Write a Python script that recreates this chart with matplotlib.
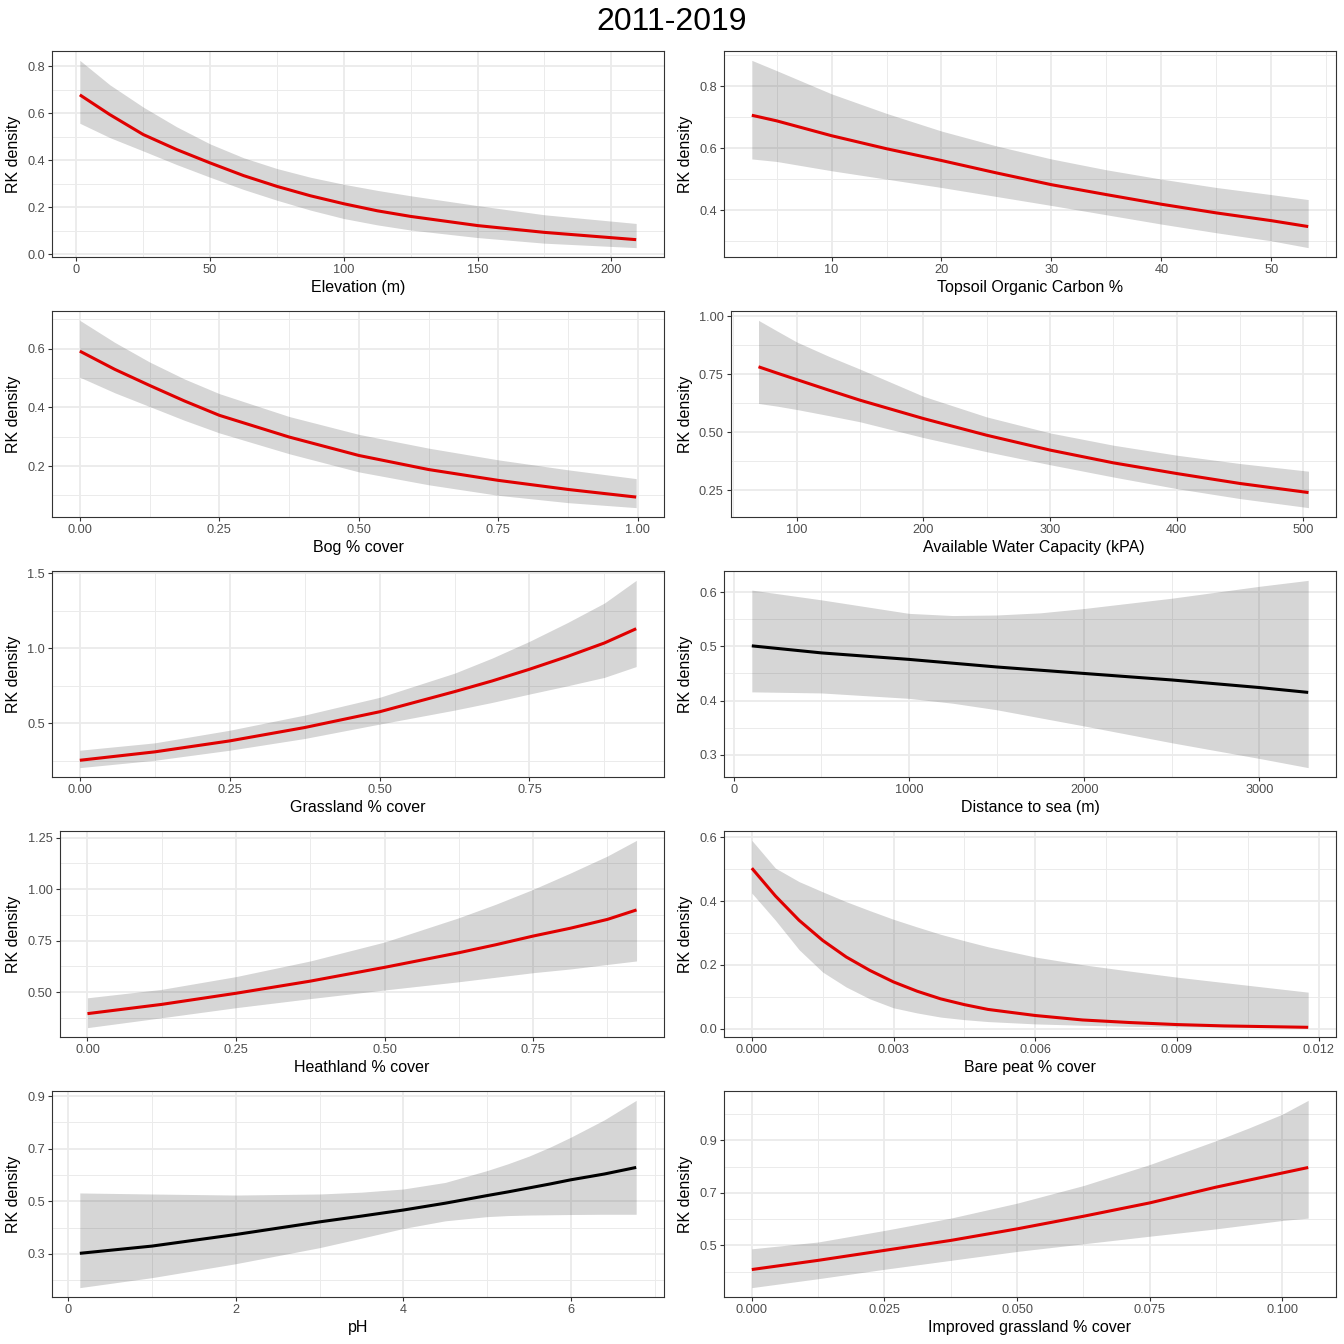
import numpy as np
import matplotlib
matplotlib.use("Agg")
import matplotlib.pyplot as plt

plt.rcParams['font.family'] = ['Liberation Sans', 'DejaVu Sans']

# ---------------- data ----------------
elev_x = [1.3, 12.5, 25, 37.5, 50, 62.5, 75, 87.5, 100, 112.5, 125, 150, 175, 209.3]
elev_fit = [0.679, 0.595, 0.510, 0.446, 0.389, 0.335, 0.289, 0.249, 0.215, 0.185, 0.161, 0.122, 0.093, 0.062]
elev_lo = [0.558, 0.497, 0.440, 0.382, 0.328, 0.276, 0.230, 0.188, 0.152, 0.125, 0.103, 0.071, 0.047, 0.028]
elev_hi = [0.826, 0.722, 0.627, 0.543, 0.470, 0.411, 0.365, 0.328, 0.298, 0.272, 0.249, 0.207, 0.168, 0.131]
elev_ticks = [0, 50, 100, 150, 200]
elev_yticks = [0.0, 0.2, 0.4, 0.6, 0.8]

toc_x = [2.75, 5, 10, 15, 20, 25, 30, 35, 40, 45, 50, 53.35]
toc_fit = [0.706, 0.688, 0.640, 0.598, 0.560, 0.520, 0.482, 0.450, 0.419, 0.391, 0.366, 0.347]
toc_lo = [0.565, 0.557, 0.527, 0.500, 0.473, 0.444, 0.415, 0.385, 0.355, 0.327, 0.301, 0.279]
toc_hi = [0.883, 0.850, 0.775, 0.712, 0.655, 0.607, 0.565, 0.530, 0.500, 0.473, 0.450, 0.434]
toc_ticks = [10, 20, 30, 40, 50]
toc_yticks = [0.4, 0.6, 0.8]

bog_x = [0.0, 0.0625, 0.125, 0.1875, 0.25, 0.375, 0.5, 0.625, 0.75, 0.875, 0.997]
bog_fit = [0.592, 0.530, 0.475, 0.422, 0.373, 0.299, 0.236, 0.188, 0.151, 0.120, 0.094]
bog_lo = [0.503, 0.450, 0.403, 0.356, 0.313, 0.242, 0.180, 0.136, 0.100, 0.075, 0.058]
bog_hi = [0.697, 0.622, 0.555, 0.497, 0.447, 0.369, 0.308, 0.261, 0.221, 0.187, 0.157]
bog_ticks = [0.0, 0.25, 0.5, 0.75, 1.0]
bog_yticks = [0.2, 0.4, 0.6]

awc_x = [69.9, 85, 100, 125, 150, 200, 250, 300, 350, 400, 450, 504]
awc_fit = [0.782, 0.754, 0.727, 0.682, 0.638, 0.559, 0.487, 0.423, 0.368, 0.322, 0.279, 0.240]
awc_lo = [0.624, 0.612, 0.598, 0.572, 0.545, 0.477, 0.416, 0.360, 0.307, 0.257, 0.214, 0.175]
awc_hi = [0.982, 0.935, 0.889, 0.828, 0.772, 0.655, 0.566, 0.497, 0.444, 0.401, 0.365, 0.332]
awc_ticks = [100, 200, 300, 400, 500]
awc_yticks = [0.25, 0.50, 0.75, 1.00]

grass_x = [0.0, 0.125, 0.25, 0.375, 0.5, 0.625, 0.6875, 0.75, 0.8125, 0.875, 0.928]
grass_fit = [0.255, 0.311, 0.384, 0.473, 0.578, 0.712, 0.783, 0.861, 0.945, 1.036, 1.131]
grass_lo = [0.206, 0.255, 0.322, 0.400, 0.496, 0.589, 0.640, 0.696, 0.750, 0.807, 0.879]
grass_hi = [0.322, 0.371, 0.455, 0.556, 0.674, 0.835, 0.935, 1.047, 1.170, 1.302, 1.453]
grass_ticks = [0.0, 0.25, 0.5, 0.75]
grass_yticks = [0.5, 1.0, 1.5]

sea_x = [103, 500, 1000, 1250, 1500, 1750, 2000, 2500, 3000, 3279]
sea_fit = [0.501, 0.488, 0.476, 0.469, 0.462, 0.456, 0.450, 0.438, 0.424, 0.415]
sea_lo = [0.416, 0.414, 0.404, 0.395, 0.383, 0.368, 0.353, 0.322, 0.293, 0.276]
sea_hi = [0.604, 0.586, 0.561, 0.557, 0.558, 0.562, 0.570, 0.589, 0.611, 0.622]
sea_ticks = [0, 1000, 2000, 3000]
sea_yticks = [0.3, 0.4, 0.5, 0.6]

heath_x = [0.0, 0.125, 0.25, 0.375, 0.5, 0.625, 0.6875, 0.75, 0.8125, 0.875, 0.924]
heath_fit = [0.395, 0.440, 0.494, 0.553, 0.620, 0.691, 0.730, 0.772, 0.810, 0.853, 0.899]
heath_lo = [0.327, 0.375, 0.424, 0.468, 0.510, 0.550, 0.572, 0.594, 0.612, 0.634, 0.651]
heath_hi = [0.472, 0.513, 0.575, 0.651, 0.743, 0.861, 0.927, 0.999, 1.078, 1.161, 1.237]
heath_ticks = [0.0, 0.25, 0.5, 0.75]
heath_yticks = [0.50, 0.75, 1.00, 1.25]

peat_x = [0.0, 0.0005, 0.001, 0.0015, 0.002, 0.0025, 0.003, 0.0035, 0.004, 0.0045,
          0.005, 0.006, 0.007, 0.008, 0.009, 0.010, 0.01178]
peat_fit = [0.503, 0.416, 0.340, 0.277, 0.225, 0.183, 0.147, 0.118, 0.094, 0.076,
            0.061, 0.042, 0.028, 0.020, 0.0136, 0.0094, 0.005]
peat_lo = [0.425, 0.340, 0.248, 0.178, 0.131, 0.094, 0.066, 0.050, 0.037, 0.029,
           0.023, 0.0157, 0.0115, 0.008, 0.006, 0.005, 0.004]
peat_hi = [0.590, 0.503, 0.461, 0.429, 0.398, 0.370, 0.343, 0.319, 0.296, 0.276,
           0.257, 0.225, 0.201, 0.181, 0.162, 0.145, 0.115]
peat_ticks = [0.0, 0.003, 0.006, 0.009, 0.012]
peat_yticks = [0.0, 0.2, 0.4, 0.6]

ph_x = [0.138, 1, 2, 3, 3.5, 4, 4.5, 5, 5.25, 5.5, 5.75, 6, 6.4, 6.78]
ph_fit = [0.3025, 0.330, 0.374, 0.422, 0.444, 0.467, 0.493, 0.522, 0.536, 0.551, 0.566, 0.582, 0.604, 0.629]
ph_lo = [0.172, 0.210, 0.263, 0.324, 0.360, 0.397, 0.426, 0.442, 0.446, 0.448, 0.449, 0.450, 0.451, 0.451]
ph_hi = [0.532, 0.528, 0.524, 0.528, 0.535, 0.547, 0.572, 0.617, 0.643, 0.672, 0.706, 0.744, 0.810, 0.884]
ph_ticks = [0, 2, 4, 6]
ph_yticks = [0.3, 0.5, 0.7, 0.9]

impr_x = [0.0, 0.0125, 0.025, 0.0375, 0.05, 0.0625, 0.075, 0.0875, 0.09375, 0.1, 0.1049]
impr_fit = [0.408, 0.443, 0.481, 0.519, 0.563, 0.611, 0.662, 0.722, 0.749, 0.776, 0.797]
impr_lo = [0.339, 0.373, 0.409, 0.443, 0.477, 0.506, 0.535, 0.563, 0.579, 0.595, 0.604]
impr_hi = [0.487, 0.513, 0.557, 0.604, 0.661, 0.728, 0.808, 0.899, 0.948, 1.000, 1.053]
impr_ticks = [0.0, 0.025, 0.05, 0.075, 0.1]
impr_yticks = [0.5, 0.7, 0.9]

panels = [
    ("Elevation (m)", elev_x, elev_fit, elev_lo, elev_hi, elev_ticks, "{:.0f}", elev_yticks, "{:.1f}", "red"),
    ("Topsoil Organic Carbon %", toc_x, toc_fit, toc_lo, toc_hi, toc_ticks, "{:.0f}", toc_yticks, "{:.1f}", "red"),
    ("Bog % cover", bog_x, bog_fit, bog_lo, bog_hi, bog_ticks, "{:.2f}", bog_yticks, "{:.1f}", "red"),
    ("Available Water Capacity (kPA)", awc_x, awc_fit, awc_lo, awc_hi, awc_ticks, "{:.0f}", awc_yticks, "{:.2f}", "red"),
    ("Grassland % cover", grass_x, grass_fit, grass_lo, grass_hi, grass_ticks, "{:.2f}", grass_yticks, "{:.1f}", "red"),
    ("Distance to sea (m)", sea_x, sea_fit, sea_lo, sea_hi, sea_ticks, "{:.0f}", sea_yticks, "{:.1f}", "black"),
    ("Heathland % cover", heath_x, heath_fit, heath_lo, heath_hi, heath_ticks, "{:.2f}", heath_yticks, "{:.2f}", "red"),
    ("Bare peat % cover", peat_x, peat_fit, peat_lo, peat_hi, peat_ticks, "{:.3f}", peat_yticks, "{:.1f}", "red"),
    ("pH", ph_x, ph_fit, ph_lo, ph_hi, ph_ticks, "{:.0f}", ph_yticks, "{:.1f}", "black"),
    ("Improved grassland % cover", impr_x, impr_fit, impr_lo, impr_hi, impr_ticks, "{:.3f}", impr_yticks, "{:.1f}", "red"),
]

# ---------------- layout ----------------
W = H = 1344
fig = plt.figure(figsize=(W / 100, H / 100), dpi=100)
fig.patch.set_facecolor("white")

RED = "#E00000"
GRID = "#EBEBEB"
BORDER = "#333333"
TICKLAB = "#4D4D4D"


def minor_from(major):
    step = major[1] - major[0]
    return list(np.arange(major[0] - step / 2, major[-1] + step, step))


for i, (xl, x, fit, lo, hi, xt, xfmt, yt, yfmt, col) in enumerate(panels):
    r, c = divmod(i, 2)
    top = 51 + 260 * r
    bot = 257 + 260 * r
    ylabw = max(len(yfmt.format(v)) for v in yt)
    if c == 0:
        left = 52 if ylabw <= 3 else 60
        right = 664
    else:
        left = 724 if ylabw <= 3 else 731
        right = 1336
    ax = fig.add_axes([left / W, 1 - bot / H, (right - left) / W, (bot - top) / H])

    x = np.asarray(x); fit = np.asarray(fit); lo = np.asarray(lo); hi = np.asarray(hi)
    ax.fill_between(x, lo, hi, color="#333333", alpha=0.2, lw=0, zorder=2)
    ax.plot(x, fit, color=(RED if col == "red" else "black"), lw=2.2, zorder=3,
            solid_capstyle="butt", solid_joinstyle="round")

    xr = x.max() - x.min()
    ymin, ymax = lo.min(), hi.max()
    yr = ymax - ymin

    ax.set_xticks(xt)
    ax.set_xticklabels([xfmt.format(v) for v in xt])
    ax.set_yticks(yt)
    ax.set_yticklabels([yfmt.format(v) for v in yt])
    ax.set_xticks(minor_from(xt), minor=True)
    ax.set_yticks(minor_from(yt), minor=True)
    ax.set_xlim(x.min() - 0.05 * xr, x.max() + 0.05 * xr)
    ax.set_ylim(ymin - 0.05 * yr, ymax + 0.05 * yr)

    ax.grid(which="major", color=GRID, lw=1.3, zorder=0)
    ax.grid(which="minor", color=GRID, lw=0.7, zorder=0)
    ax.set_axisbelow(True)

    ax.tick_params(which="major", direction="out", length=3.2, width=0.8,
                   color=BORDER, labelsize=9.2, labelcolor=TICKLAB, pad=2.0)
    ax.tick_params(which="minor", length=0)
    for s in ax.spines.values():
        s.set_color(BORDER)
        s.set_linewidth(0.8)

    ax.set_xlabel(xl, fontsize=11.5, color="black", labelpad=2.5)
    ax.set_ylabel("RK density", fontsize=11.5, color="black")
    ax.yaxis.set_label_coords(((21 + 672 * c) - left) / (right - left), 0.5)

fig.text(0.5, 1 - 22 / H, "2011-2019", ha="center", va="center", fontsize=23)

fig.savefig("out.png", dpi=100, facecolor="white")
